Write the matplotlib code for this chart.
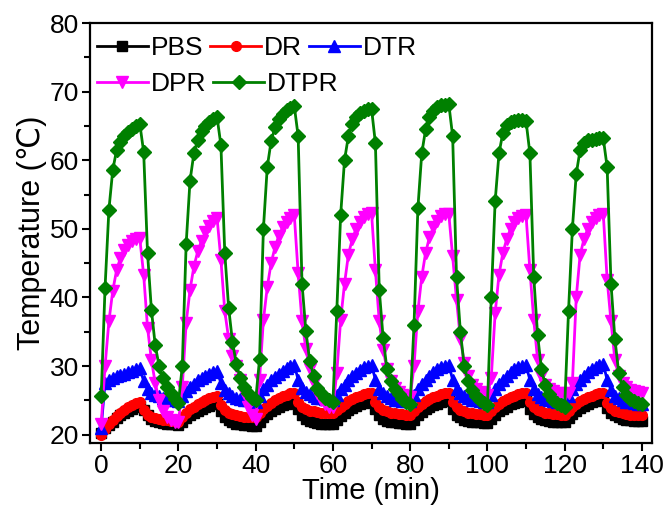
import numpy as np
import matplotlib.pyplot as plt
from matplotlib.ticker import MultipleLocator

# tempo (min), uma leitura por minuto, 7 ciclos de 20 min
time = np.arange(0, 141)

pbs = [20.3, 20.9, 21.4, 21.9, 22.4, 22.8, 23.2, 23.5, 23.8, 24.0, 24.2, 23.6, 22.8, 22.3, 22.0, 21.8, 21.7, 21.6, 21.5, 21.5, 21.4,
       21.9, 22.4, 22.8, 23.2, 23.5, 23.8, 24.0, 24.2, 24.4, 24.5, 23.5, 22.6, 22.1, 21.8, 21.6, 21.5, 21.4, 21.4, 21.3, 21.3,
       21.9, 22.5, 23.0, 23.4, 23.8, 24.1, 24.3, 24.5, 24.7, 24.8, 23.7, 22.8, 22.3, 22.0, 21.8, 21.7, 21.6, 21.5, 21.5, 21.5,
       22.1, 22.7, 23.2, 23.6, 23.9, 24.2, 24.4, 24.6, 24.7, 24.8, 23.7, 22.8, 22.3, 22.0, 21.9, 21.8, 21.7, 21.7, 21.6, 21.6,
       22.2, 22.8, 23.3, 23.7, 24.0, 24.3, 24.5, 24.7, 24.9, 25.0, 23.8, 22.9, 22.5, 22.2, 22.0, 21.9, 21.8, 21.8, 21.7, 21.7,
       22.3, 22.9, 23.4, 23.8, 24.1, 24.4, 24.6, 24.8, 24.9, 25.0, 23.8, 23.0, 22.6, 22.3, 22.1, 22.0, 21.9, 21.9, 21.8, 21.8,
       22.4, 23.0, 23.5, 23.9, 24.2, 24.5, 24.7, 24.9, 25.0, 25.1, 23.9, 23.2, 22.8, 22.5, 22.3, 22.2, 22.1, 22.0, 22.0, 22.0]

dr = [20.0, 20.8, 21.5, 22.1, 22.7, 23.2, 23.6, 24.0, 24.3, 24.6, 24.8, 23.6, 22.9, 22.6, 22.4, 22.3, 22.2, 22.1, 22.0, 22.0, 21.9,
      22.6, 23.2, 23.7, 24.1, 24.5, 24.8, 25.1, 25.3, 25.5, 25.6, 24.3, 23.6, 23.2, 23.0, 22.8, 22.7, 22.6, 22.6, 22.5, 22.5,
      23.1, 23.7, 24.2, 24.6, 25.0, 25.3, 25.6, 25.8, 26.0, 26.1, 24.8, 24.1, 23.7, 23.5, 23.4, 23.3, 23.2, 23.2, 23.1, 23.1,
      23.6, 24.1, 24.5, 24.9, 25.2, 25.5, 25.7, 25.9, 26.0, 26.1, 24.8, 24.0, 23.6, 23.4, 23.2, 23.1, 23.0, 23.0, 22.9, 22.9,
      23.5, 24.0, 24.5, 24.9, 25.2, 25.5, 25.7, 25.9, 26.0, 26.1, 24.8, 24.0, 23.6, 23.4, 23.2, 23.1, 23.0, 23.0, 22.9, 22.9,
      23.5, 24.0, 24.5, 24.9, 25.2, 25.5, 25.7, 25.9, 26.0, 26.1, 24.8, 24.0, 23.6, 23.4, 23.2, 23.1, 23.0, 23.0, 22.9, 22.9,
      23.5, 24.0, 24.5, 24.9, 25.2, 25.5, 25.7, 25.9, 26.0, 26.1, 24.6, 23.9, 23.5, 23.3, 23.1, 23.0, 22.9, 22.9, 22.8, 22.8]

dtr = [21.0, 27.6, 28.0, 28.3, 28.5, 28.7, 28.9, 29.1, 29.3, 29.5, 29.7, 27.8, 26.6, 26.1, 25.8, 25.6, 25.4, 25.2, 25.1, 25.0, 24.9,
       25.6, 26.3, 26.9, 27.4, 27.9, 28.3, 28.6, 28.9, 29.1, 29.3, 27.5, 26.5, 26.0, 25.7, 25.4, 25.2, 25.1, 25.0, 24.9, 24.8,
       25.7, 26.6, 27.3, 27.9, 28.4, 28.9, 29.3, 29.7, 30.0, 30.2, 28.0, 26.8, 26.2, 25.9, 25.6, 25.4, 25.3, 25.2, 25.1, 25.0,
       25.8, 26.6, 27.3, 27.9, 28.5, 29.0, 29.4, 29.8, 30.0, 30.2, 28.0, 26.7, 26.0, 25.6, 25.3, 25.1, 25.0, 24.9, 24.9, 24.9,
       25.8, 26.7, 27.4, 28.0, 28.6, 29.1, 29.5, 29.8, 30.0, 30.2, 28.0, 26.7, 26.0, 25.6, 25.3, 25.1, 25.0, 24.9, 24.8, 24.8,
       25.8, 26.7, 27.4, 28.0, 28.6, 29.1, 29.5, 29.8, 30.0, 30.1, 28.0, 26.6, 25.9, 25.5, 25.2, 25.0, 24.9, 24.8, 24.7, 24.7,
       25.7, 26.6, 27.4, 28.0, 28.6, 29.1, 29.6, 29.9, 30.1, 30.3, 28.0, 26.5, 25.7, 25.3, 25.0, 24.8, 24.7, 24.6, 24.5, 24.4]

dpr = [21.5, 30.0, 36.5, 41.0, 44.0, 45.8, 46.9, 47.7, 48.2, 48.5, 48.6, 43.3, 35.6, 30.9, 27.5, 25.0, 23.5, 22.6, 22.1, 21.9, 21.8,
       27.0, 36.3, 41.1, 44.5, 46.7, 48.3, 49.5, 50.4, 51.1, 51.6, 45.5, 38.0, 34.0, 31.5, 30.0, 28.0, 26.0, 24.0, 22.8, 22.3,
       28.0, 36.7, 41.5, 45.0, 47.3, 49.0, 50.2, 51.0, 51.6, 52.0, 43.5, 36.5, 32.5, 29.5, 27.5, 26.0, 25.0, 24.4, 24.1, 24.0,
       29.0, 36.7, 42.0, 46.2, 48.5, 50.0, 51.0, 51.7, 52.1, 52.3, 44.0, 36.5, 32.4, 29.5, 27.8, 26.8, 26.2, 25.8, 25.6, 25.5,
       30.0, 38.0, 43.0, 46.5, 48.8, 50.2, 51.2, 51.8, 52.1, 52.2, 46.0, 39.7, 34.0, 30.5, 28.5, 27.3, 26.6, 26.2, 26.0, 25.8,
       28.3, 37.7, 43.3, 46.5, 48.5, 50.0, 51.0, 51.6, 51.9, 52.0, 44.0, 36.7, 30.9, 28.5, 27.3, 26.7, 26.3, 26.1, 26.0, 25.9,
       26.0, 27.5, 40.0, 46.2, 48.5, 50.0, 51.0, 51.6, 52.0, 52.2, 42.6, 36.5, 30.9, 28.5, 27.5, 26.9, 26.5, 26.3, 26.2, 26.1]

dtpr = [25.6, 41.4, 52.8, 58.6, 61.5, 62.6, 63.5, 64.1, 64.6, 65.0, 65.3, 61.2, 46.5, 38.2, 33.0, 30.0, 28.2, 27.0, 26.0, 25.2, 24.6,
        30.0, 47.8, 57.0, 61.0, 63.0, 64.2, 65.0, 65.6, 66.0, 66.3, 62.2, 46.5, 38.5, 33.5, 30.3, 28.3, 27.0, 26.0, 25.4, 25.0,
        31.0, 50.0, 59.0, 62.8, 64.8, 66.0, 66.8, 67.3, 67.6, 67.9, 63.5, 42.0, 35.1, 30.7, 28.6, 26.8, 26.0, 25.4, 25.0, 24.8,
        38.0, 52.0, 60.0, 63.5, 65.3, 66.3, 66.9, 67.2, 67.4, 67.5, 62.5, 41.1, 34.1, 29.5, 27.8, 26.6, 25.9, 25.2, 24.8, 24.4,
        36.0, 53.0, 61.0, 64.5, 66.3, 67.2, 67.7, 68.0, 68.1, 68.2, 63.5, 43.0, 35.0, 30.0, 27.8, 26.5, 25.6, 25.0, 24.6, 24.3,
        40.0, 54.0, 61.0, 64.0, 65.2, 65.6, 65.7, 65.8, 65.8, 65.7, 61.0, 43.0, 34.5, 29.5, 27.2, 25.9, 25.1, 24.6, 24.3, 24.0,
        38.0, 50.0, 58.0, 61.5, 62.5, 62.9, 63.0, 63.1, 63.2, 63.2, 59.0, 42.0, 34.0, 29.0, 27.0, 25.8, 25.2, 24.9, 24.6, 24.5]

plt.rcParams['font.family'] = ['Liberation Sans', 'DejaVu Sans']

fig = plt.figure(figsize=(6.69, 5.12), dpi=100)
ax = fig.add_axes([0.1345, 0.135, 0.840, 0.820])

series = [
    ("PBS", pbs, 'black', 's', 6.5),
    ("DR", dr, 'red', 'o', 7),
    ("DTR", dtr, 'blue', '^', 8),
    ("DPR", dpr, '#FF00FF', 'v', 8),
    ("DTPR", dtpr, 'green', 'D', 7),
]

lines = {}
for name, vals, color, mk, ms in series:
    ln, = ax.plot(time, vals, color=color, marker=mk, markersize=ms, linewidth=2.0, label=name)
    lines[name] = ln

ax.set_xlim(-2.9, 142.6)
ax.set_ylim(18.8, 80)
ax.xaxis.set_major_locator(MultipleLocator(20))
ax.xaxis.set_minor_locator(MultipleLocator(10))
ax.yaxis.set_major_locator(MultipleLocator(10))
ax.yaxis.set_minor_locator(MultipleLocator(5))
ax.tick_params(which='both', direction='out', width=1.5, labelsize=19, top=False, right=False, pad=2)
ax.tick_params(which='major', length=6)
ax.tick_params(which='minor', length=4)
for sp in ax.spines.values():
    sp.set_linewidth(1.6)

ax.set_xlabel("Time (min)", fontsize=21, labelpad=-1)
ax.set_ylabel("Temperature (℃)", fontsize=22, labelpad=2)

# legenda em duas linhas independentes: PBS DR DTR / DPR DTPR
leg_kw = dict(loc='upper left', frameon=False, fontsize=19, handlelength=1.95,
              handletextpad=0.1, columnspacing=0.25, borderpad=0, borderaxespad=0)
leg1 = ax.legend([lines[n] for n in ["PBS", "DR", "DTR"]], ["PBS", "DR", "DTR"],
                 ncol=3, bbox_to_anchor=(0.012, 0.968), **leg_kw)
ax.add_artist(leg1)
ax.legend([lines[n] for n in ["DPR", "DTPR"]], ["DPR", "DTPR"],
          ncol=2, bbox_to_anchor=(0.012, 0.884), **leg_kw)

plt.savefig("out.png", dpi=100, facecolor='white')
